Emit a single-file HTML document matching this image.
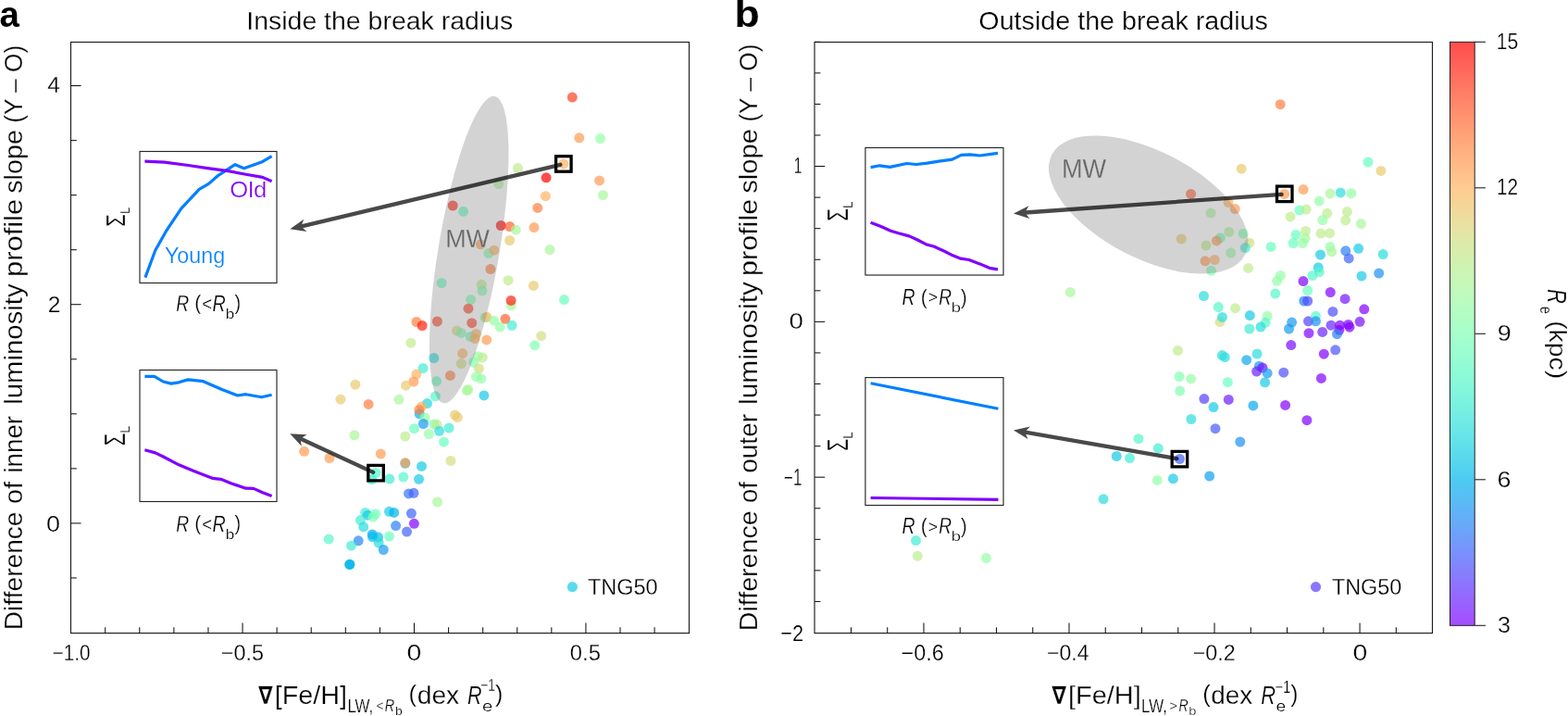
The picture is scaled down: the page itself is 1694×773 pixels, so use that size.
<!DOCTYPE html><html><head><meta charset="utf-8"><title>Figure</title><style>html,body{margin:0;padding:0;background:#fff;overflow:hidden;width:1694px;height:773px}svg{display:block}svg text{stroke:#fff;stroke-width:0.25px}</style></head><body>
<svg width="1694" height="773" viewBox="0 0 1694 773" font-family="'Liberation Sans', Arial, sans-serif">
<rect width="1694" height="773" fill="#fff"/>
<circle cx="618.3" cy="105.1" r="5.50" fill="#ff4221" fill-opacity="0.7"/>
<circle cx="625.8" cy="148.8" r="5.50" fill="#ff9b52" fill-opacity="0.7"/>
<circle cx="648.6" cy="149.6" r="5.50" fill="#95fda8" fill-opacity="0.7"/>
<circle cx="608.8" cy="176.9" r="5.50" fill="#ffb462" fill-opacity="0.7"/>
<circle cx="559.4" cy="181.4" r="5.50" fill="#bfec8e" fill-opacity="0.7"/>
<circle cx="590.1" cy="191.8" r="5.50" fill="#ff0000" fill-opacity="0.7"/>
<circle cx="647.6" cy="194.9" r="5.50" fill="#ff9b52" fill-opacity="0.7"/>
<circle cx="538.7" cy="198.5" r="5.50" fill="#aaf69b" fill-opacity="0.7"/>
<circle cx="651.5" cy="210.7" r="5.50" fill="#aaf69b" fill-opacity="0.7"/>
<circle cx="589.4" cy="211.7" r="5.50" fill="#ffb462" fill-opacity="0.7"/>
<circle cx="580.8" cy="224.4" r="5.50" fill="#ff7f42" fill-opacity="0.7"/>
<circle cx="489.2" cy="222.0" r="5.50" fill="#ff2111" fill-opacity="0.7"/>
<circle cx="500.6" cy="228.3" r="5.50" fill="#6afdc0" fill-opacity="0.7"/>
<circle cx="541.2" cy="243.5" r="5.50" fill="#ff0000" fill-opacity="0.7"/>
<circle cx="550.8" cy="244.6" r="5.50" fill="#ff6232" fill-opacity="0.7"/>
<circle cx="557.3" cy="248.2" r="5.50" fill="#aaf69b" fill-opacity="0.7"/>
<circle cx="577.0" cy="245.6" r="5.50" fill="#ff9b52" fill-opacity="0.7"/>
<circle cx="550.6" cy="259.5" r="5.50" fill="#eaca71" fill-opacity="0.7"/>
<circle cx="519.3" cy="263.8" r="5.50" fill="#ff9b52" fill-opacity="0.7"/>
<circle cx="527.8" cy="273.5" r="5.50" fill="#80ffb4" fill-opacity="0.7"/>
<circle cx="533.7" cy="270.2" r="5.50" fill="#ffb462" fill-opacity="0.7"/>
<circle cx="594.0" cy="269.5" r="5.50" fill="#aaf69b" fill-opacity="0.7"/>
<circle cx="529.9" cy="290.5" r="5.50" fill="#ff7f42" fill-opacity="0.7"/>
<circle cx="549.0" cy="302.7" r="5.50" fill="#bfec8e" fill-opacity="0.7"/>
<circle cx="576.4" cy="308.4" r="5.50" fill="#eaca71" fill-opacity="0.7"/>
<circle cx="477.1" cy="305.5" r="5.50" fill="#6afdc0" fill-opacity="0.7"/>
<circle cx="520.3" cy="307.3" r="5.50" fill="#bfec8e" fill-opacity="0.7"/>
<circle cx="521.0" cy="314.0" r="5.50" fill="#80ffb4" fill-opacity="0.7"/>
<circle cx="609.5" cy="323.6" r="5.50" fill="#6afdc0" fill-opacity="0.7"/>
<circle cx="508.6" cy="323.4" r="5.50" fill="#80ffb4" fill-opacity="0.7"/>
<circle cx="552.1" cy="329.9" r="5.50" fill="#aaf69b" fill-opacity="0.7"/>
<circle cx="552.1" cy="324.4" r="5.50" fill="#ff2111" fill-opacity="0.7"/>
<circle cx="506.0" cy="333.2" r="5.50" fill="#ff4221" fill-opacity="0.7"/>
<circle cx="472.4" cy="347.0" r="5.50" fill="#ff4221" fill-opacity="0.7"/>
<circle cx="509.7" cy="348.7" r="5.50" fill="#ff4221" fill-opacity="0.7"/>
<circle cx="524.0" cy="342.8" r="5.50" fill="#80ffb4" fill-opacity="0.7"/>
<circle cx="526.0" cy="342.3" r="5.50" fill="#ffb462" fill-opacity="0.7"/>
<circle cx="533.7" cy="346.2" r="5.50" fill="#95fda8" fill-opacity="0.7"/>
<circle cx="545.9" cy="344.3" r="5.50" fill="#ff6232" fill-opacity="0.7"/>
<circle cx="540.2" cy="353.1" r="5.50" fill="#95fda8" fill-opacity="0.7"/>
<circle cx="553.1" cy="351.3" r="5.50" fill="#40ecd4" fill-opacity="0.7"/>
<circle cx="493.6" cy="357.0" r="5.50" fill="#d4dd80" fill-opacity="0.7"/>
<circle cx="498.3" cy="359.4" r="5.50" fill="#80ffb4" fill-opacity="0.7"/>
<circle cx="508.4" cy="363.5" r="5.50" fill="#6afdc0" fill-opacity="0.7"/>
<circle cx="514.3" cy="360.4" r="5.50" fill="#ffb462" fill-opacity="0.7"/>
<circle cx="513.0" cy="365.6" r="5.50" fill="#ffb462" fill-opacity="0.7"/>
<circle cx="525.7" cy="366.9" r="5.50" fill="#ff9b52" fill-opacity="0.7"/>
<circle cx="584.7" cy="362.7" r="5.50" fill="#d4dd80" fill-opacity="0.7"/>
<circle cx="577.7" cy="372.8" r="5.50" fill="#80ffb4" fill-opacity="0.7"/>
<circle cx="468.8" cy="386.5" r="5.50" fill="#2adddd" fill-opacity="0.7"/>
<circle cx="499.6" cy="381.6" r="5.50" fill="#ffb462" fill-opacity="0.7"/>
<circle cx="498.3" cy="392.5" r="5.50" fill="#d4dd80" fill-opacity="0.7"/>
<circle cx="511.7" cy="391.2" r="5.50" fill="#80ffb4" fill-opacity="0.7"/>
<circle cx="516.4" cy="384.7" r="5.50" fill="#95fda8" fill-opacity="0.7"/>
<circle cx="521.3" cy="386.0" r="5.50" fill="#bfec8e" fill-opacity="0.7"/>
<circle cx="517.4" cy="397.9" r="5.50" fill="#d4dd80" fill-opacity="0.7"/>
<circle cx="514.3" cy="406.7" r="5.50" fill="#95fda8" fill-opacity="0.7"/>
<circle cx="519.8" cy="408.8" r="5.50" fill="#95fda8" fill-opacity="0.7"/>
<circle cx="486.4" cy="405.4" r="5.50" fill="#ff7f42" fill-opacity="0.7"/>
<circle cx="471.6" cy="411.6" r="5.50" fill="#6afdc0" fill-opacity="0.7"/>
<circle cx="504.4" cy="421.6" r="5.50" fill="#aaf69b" fill-opacity="0.7"/>
<circle cx="505.8" cy="420.6" r="5.50" fill="#aaf69b" fill-opacity="0.7"/>
<circle cx="522.9" cy="426.9" r="5.50" fill="#15cae5" fill-opacity="0.7"/>
<circle cx="470.4" cy="427.8" r="5.50" fill="#55f6ca" fill-opacity="0.7"/>
<circle cx="461.5" cy="435.6" r="5.50" fill="#22d6e0" fill-opacity="0.7"/>
<circle cx="491.5" cy="448.0" r="5.50" fill="#eaca71" fill-opacity="0.7"/>
<circle cx="494.4" cy="450.6" r="5.50" fill="#eaca71" fill-opacity="0.7"/>
<circle cx="449.9" cy="347.5" r="5.50" fill="#ff7f42" fill-opacity="0.7"/>
<circle cx="456.1" cy="351.5" r="5.50" fill="#ff2111" fill-opacity="0.7"/>
<circle cx="443.9" cy="370.2" r="5.50" fill="#bfec8e" fill-opacity="0.7"/>
<circle cx="457.0" cy="397.5" r="5.50" fill="#40ecd4" fill-opacity="0.7"/>
<circle cx="449.9" cy="404.1" r="5.50" fill="#ffb462" fill-opacity="0.7"/>
<circle cx="446.8" cy="412.1" r="5.50" fill="#ff9b52" fill-opacity="0.7"/>
<circle cx="438.5" cy="416.2" r="5.50" fill="#eaca71" fill-opacity="0.7"/>
<circle cx="383.9" cy="415.2" r="5.50" fill="#eaca71" fill-opacity="0.7"/>
<circle cx="367.9" cy="431.2" r="5.50" fill="#eaca71" fill-opacity="0.7"/>
<circle cx="398.1" cy="436.4" r="5.50" fill="#ff7f42" fill-opacity="0.7"/>
<circle cx="431.0" cy="431.3" r="5.50" fill="#aaf69b" fill-opacity="0.7"/>
<circle cx="455.5" cy="439.0" r="5.50" fill="#ffb462" fill-opacity="0.7"/>
<circle cx="453.2" cy="446.8" r="5.50" fill="#00b4ec" fill-opacity="0.7"/>
<circle cx="452.9" cy="442.4" r="5.50" fill="#ff7f42" fill-opacity="0.7"/>
<circle cx="459.1" cy="451.0" r="5.50" fill="#95fda8" fill-opacity="0.7"/>
<circle cx="457.4" cy="457.5" r="5.50" fill="#159bf1" fill-opacity="0.7"/>
<circle cx="447.5" cy="462.7" r="5.50" fill="#6afdc0" fill-opacity="0.7"/>
<circle cx="437.8" cy="471.1" r="5.50" fill="#bfec8e" fill-opacity="0.7"/>
<circle cx="468.8" cy="457.9" r="5.50" fill="#80ffb4" fill-opacity="0.7"/>
<circle cx="472.0" cy="458.2" r="5.50" fill="#bfec8e" fill-opacity="0.7"/>
<circle cx="474.6" cy="465.3" r="5.50" fill="#2adddd" fill-opacity="0.7"/>
<circle cx="485.0" cy="462.0" r="5.50" fill="#40ecd4" fill-opacity="0.7"/>
<circle cx="463.4" cy="468.5" r="5.50" fill="#95fda8" fill-opacity="0.7"/>
<circle cx="479.5" cy="477.2" r="5.50" fill="#6afdc0" fill-opacity="0.7"/>
<circle cx="486.9" cy="497.4" r="5.50" fill="#d4dd80" fill-opacity="0.7"/>
<circle cx="437.8" cy="500.3" r="5.50" fill="#15cae5" fill-opacity="0.7"/>
<circle cx="437.8" cy="499.6" r="5.50" fill="#ff9b52" fill-opacity="0.7"/>
<circle cx="455.5" cy="503.4" r="5.50" fill="#15cae5" fill-opacity="0.7"/>
<circle cx="435.8" cy="515.1" r="5.50" fill="#55f6ca" fill-opacity="0.7"/>
<circle cx="452.6" cy="517.3" r="5.50" fill="#15cae5" fill-opacity="0.7"/>
<circle cx="382.9" cy="469.8" r="5.50" fill="#aaf69b" fill-opacity="0.7"/>
<circle cx="328.6" cy="487.3" r="5.50" fill="#ff9b52" fill-opacity="0.7"/>
<circle cx="356.0" cy="494.5" r="5.50" fill="#ff9b52" fill-opacity="0.7"/>
<circle cx="411.3" cy="490.0" r="5.50" fill="#ff9b52" fill-opacity="0.7"/>
<circle cx="420.9" cy="517.1" r="5.50" fill="#40ecd4" fill-opacity="0.7"/>
<circle cx="406.0" cy="510.5" r="5.50" fill="#55f6ca" fill-opacity="0.7"/>
<circle cx="401.6" cy="517.5" r="5.50" fill="#40ecd4" fill-opacity="0.7"/>
<circle cx="441.5" cy="532.9" r="5.50" fill="#3374f8" fill-opacity="0.7"/>
<circle cx="447.0" cy="532.3" r="5.50" fill="#4062fa" fill-opacity="0.7"/>
<circle cx="472.5" cy="542.0" r="5.50" fill="#aaf69b" fill-opacity="0.7"/>
<circle cx="394.7" cy="553.4" r="5.50" fill="#40ecd4" fill-opacity="0.7"/>
<circle cx="397.2" cy="556.2" r="5.50" fill="#15cae5" fill-opacity="0.7"/>
<circle cx="405.6" cy="554.9" r="5.50" fill="#6afdc0" fill-opacity="0.7"/>
<circle cx="403.1" cy="558.1" r="5.50" fill="#80ffb4" fill-opacity="0.7"/>
<circle cx="420.5" cy="552.3" r="5.50" fill="#15cae5" fill-opacity="0.7"/>
<circle cx="425.7" cy="553.4" r="5.50" fill="#00b4ec" fill-opacity="0.7"/>
<circle cx="444.4" cy="554.3" r="5.50" fill="#4062fa" fill-opacity="0.7"/>
<circle cx="447.4" cy="565.3" r="5.50" fill="#8000ff" fill-opacity="0.7"/>
<circle cx="389.5" cy="561.6" r="5.50" fill="#40ecd4" fill-opacity="0.7"/>
<circle cx="392.7" cy="568.9" r="5.50" fill="#2adddd" fill-opacity="0.7"/>
<circle cx="427.6" cy="567.6" r="5.50" fill="#2b7ff6" fill-opacity="0.7"/>
<circle cx="439.5" cy="574.1" r="5.50" fill="#4062fa" fill-opacity="0.7"/>
<circle cx="402.2" cy="576.9" r="5.50" fill="#09abee" fill-opacity="0.7"/>
<circle cx="402.4" cy="579.5" r="5.50" fill="#08bee9" fill-opacity="0.7"/>
<circle cx="408.6" cy="580.1" r="5.50" fill="#08bee9" fill-opacity="0.7"/>
<circle cx="409.1" cy="586.0" r="5.50" fill="#2adddd" fill-opacity="0.7"/>
<circle cx="420.5" cy="579.1" r="5.50" fill="#6afdc0" fill-opacity="0.7"/>
<circle cx="355.2" cy="582.1" r="5.50" fill="#55f6ca" fill-opacity="0.7"/>
<circle cx="387.2" cy="583.8" r="5.50" fill="#2685f5" fill-opacity="0.7"/>
<circle cx="379.5" cy="589.2" r="5.50" fill="#40ecd4" fill-opacity="0.7"/>
<circle cx="414.3" cy="593.5" r="5.50" fill="#159bf1" fill-opacity="0.7"/>
<circle cx="377.8" cy="609.2" r="5.50" fill="#00b4ec" fill-opacity="0.7"/>
<circle cx="377.8" cy="609.6" r="5.50" fill="#00b4ec" fill-opacity="0.7"/>
<ellipse cx="506.7" cy="269.6" rx="33.0" ry="168" transform="rotate(9.5 506.7 269.6)" fill="#808080" fill-opacity="0.35"/>
<text transform="translate(483.40,266.80) scale(0.9443,1)" x="-2.337" y="0" font-family="'Liberation Sans', sans-serif" font-size="28.489" fill="#666" style="stroke:#d2d2d2">MW</text>
<g opacity="0.71"><line x1="605.4" y1="177.8" x2="325.8" y2="244.3" stroke="#000" stroke-width="4.3" stroke-linecap="round"/><path d="M313.3 247.3L328.2 236.7L325.3 244.5L331.4 250.1Z" fill="#000"/></g>
<g opacity="0.71"><line x1="403.2" y1="509.9" x2="324.9" y2="473.7" stroke="#000" stroke-width="4.3" stroke-linecap="round"/><path d="M313.3 468.3L331.6 469.2L324.5 473.5L325.8 481.7Z" fill="#000"/></g>
<rect x="600.6" y="168.7" width="16.5" height="16.5" fill="none" stroke="#000" stroke-width="3.3"/>
<rect x="397.8" y="502.4" width="16.5" height="16.5" fill="none" stroke="#000" stroke-width="3.3"/>
<circle cx="1383.2" cy="112.7" r="5.50" fill="#ff7f42" fill-opacity="0.7"/>
<circle cx="1478.1" cy="175.0" r="5.50" fill="#6afdc0" fill-opacity="0.7"/>
<circle cx="1491.9" cy="184.4" r="5.50" fill="#eaca71" fill-opacity="0.7"/>
<circle cx="1341.2" cy="182.2" r="5.50" fill="#eaca71" fill-opacity="0.7"/>
<circle cx="1387.6" cy="209.4" r="5.50" fill="#ff9b52" fill-opacity="0.7"/>
<circle cx="1408.1" cy="204.6" r="5.50" fill="#ff9b52" fill-opacity="0.7"/>
<circle cx="1286.6" cy="209.4" r="5.50" fill="#ff6232" fill-opacity="0.7"/>
<circle cx="1437.1" cy="209.1" r="5.50" fill="#aaf69b" fill-opacity="0.7"/>
<circle cx="1448.3" cy="207.9" r="5.50" fill="#2adddd" fill-opacity="0.7"/>
<circle cx="1459.8" cy="208.7" r="5.50" fill="#95fda8" fill-opacity="0.7"/>
<circle cx="1425.2" cy="217.1" r="5.50" fill="#95fda8" fill-opacity="0.7"/>
<circle cx="1327.1" cy="218.6" r="5.50" fill="#ffb462" fill-opacity="0.7"/>
<circle cx="1334.3" cy="225.6" r="5.50" fill="#ff9b52" fill-opacity="0.7"/>
<circle cx="1308.1" cy="230.1" r="5.50" fill="#aaf69b" fill-opacity="0.7"/>
<circle cx="1403.9" cy="226.9" r="5.50" fill="#6afdc0" fill-opacity="0.7"/>
<circle cx="1411.2" cy="226.1" r="5.50" fill="#bfec8e" fill-opacity="0.7"/>
<circle cx="1394.1" cy="234.1" r="5.50" fill="#bfec8e" fill-opacity="0.7"/>
<circle cx="1433.8" cy="230.3" r="5.50" fill="#bfec8e" fill-opacity="0.7"/>
<circle cx="1429.0" cy="237.5" r="5.50" fill="#95fda8" fill-opacity="0.7"/>
<circle cx="1455.5" cy="228.6" r="5.50" fill="#bfec8e" fill-opacity="0.7"/>
<circle cx="1453.7" cy="237.8" r="5.50" fill="#bfec8e" fill-opacity="0.7"/>
<circle cx="1470.4" cy="241.6" r="5.50" fill="#aaf69b" fill-opacity="0.7"/>
<circle cx="1276.3" cy="258.0" r="5.50" fill="#eaca71" fill-opacity="0.7"/>
<circle cx="1303.0" cy="265.0" r="5.50" fill="#bfec8e" fill-opacity="0.7"/>
<circle cx="1318.3" cy="256.9" r="5.50" fill="#6afdc0" fill-opacity="0.7"/>
<circle cx="1314.4" cy="259.9" r="5.50" fill="#ff9b52" fill-opacity="0.7"/>
<circle cx="1327.8" cy="250.4" r="5.50" fill="#aaf69b" fill-opacity="0.7"/>
<circle cx="1343.2" cy="252.2" r="5.50" fill="#80ffb4" fill-opacity="0.7"/>
<circle cx="1349.9" cy="262.2" r="5.50" fill="#d4dd80" fill-opacity="0.7"/>
<circle cx="1345.4" cy="267.5" r="5.50" fill="#40ecd4" fill-opacity="0.7"/>
<circle cx="1329.7" cy="273.0" r="5.50" fill="#95fda8" fill-opacity="0.7"/>
<circle cx="1302.0" cy="281.8" r="5.50" fill="#ff9b52" fill-opacity="0.7"/>
<circle cx="1312.2" cy="280.5" r="5.50" fill="#ffb462" fill-opacity="0.7"/>
<circle cx="1308.6" cy="292.2" r="5.50" fill="#80ffb4" fill-opacity="0.7"/>
<circle cx="1348.6" cy="289.4" r="5.50" fill="#bfec8e" fill-opacity="0.7"/>
<circle cx="1373.1" cy="266.4" r="5.50" fill="#6afdc0" fill-opacity="0.7"/>
<circle cx="1400.0" cy="253.4" r="5.50" fill="#6afdc0" fill-opacity="0.7"/>
<circle cx="1410.5" cy="249.4" r="5.50" fill="#bfec8e" fill-opacity="0.7"/>
<circle cx="1410.2" cy="257.2" r="5.50" fill="#aaf69b" fill-opacity="0.7"/>
<circle cx="1397.2" cy="262.5" r="5.50" fill="#6afdc0" fill-opacity="0.7"/>
<circle cx="1407.4" cy="262.5" r="5.50" fill="#95fda8" fill-opacity="0.7"/>
<circle cx="1427.0" cy="252.1" r="5.50" fill="#bfec8e" fill-opacity="0.7"/>
<circle cx="1436.6" cy="251.7" r="5.50" fill="#bfec8e" fill-opacity="0.7"/>
<circle cx="1437.0" cy="266.5" r="5.50" fill="#95fda8" fill-opacity="0.7"/>
<circle cx="1438.7" cy="271.8" r="5.50" fill="#aaf69b" fill-opacity="0.7"/>
<circle cx="1426.5" cy="275.0" r="5.50" fill="#15cae5" fill-opacity="0.7"/>
<circle cx="1453.8" cy="270.8" r="5.50" fill="#2b7ff6" fill-opacity="0.7"/>
<circle cx="1457.2" cy="278.9" r="5.50" fill="#4062fa" fill-opacity="0.7"/>
<circle cx="1467.6" cy="268.3" r="5.50" fill="#15cae5" fill-opacity="0.7"/>
<circle cx="1494.2" cy="274.6" r="5.50" fill="#2adddd" fill-opacity="0.7"/>
<circle cx="1424.2" cy="288.8" r="5.50" fill="#15cae5" fill-opacity="0.7"/>
<circle cx="1425.3" cy="293.7" r="5.50" fill="#55f6ca" fill-opacity="0.7"/>
<circle cx="1417.9" cy="297.5" r="5.50" fill="#55f6ca" fill-opacity="0.7"/>
<circle cx="1408.0" cy="303.6" r="5.50" fill="#8000ff" fill-opacity="0.7"/>
<circle cx="1383.4" cy="297.4" r="5.50" fill="#95fda8" fill-opacity="0.7"/>
<circle cx="1471.0" cy="298.1" r="5.50" fill="#15cae5" fill-opacity="0.7"/>
<circle cx="1489.7" cy="295.0" r="5.50" fill="#1e90f4" fill-opacity="0.7"/>
<circle cx="1379.6" cy="303.3" r="5.50" fill="#95fda8" fill-opacity="0.7"/>
<circle cx="1377.8" cy="317.0" r="5.50" fill="#55f6ca" fill-opacity="0.7"/>
<circle cx="1412.7" cy="313.6" r="5.50" fill="#6afdc0" fill-opacity="0.7"/>
<circle cx="1408.8" cy="325.0" r="5.50" fill="#2b7ff6" fill-opacity="0.7"/>
<circle cx="1412.7" cy="325.0" r="5.50" fill="#4c4ffc" fill-opacity="0.7"/>
<circle cx="1437.3" cy="315.5" r="5.50" fill="#8000ff" fill-opacity="0.7"/>
<circle cx="1453.1" cy="322.7" r="5.50" fill="#7314ff" fill-opacity="0.7"/>
<circle cx="1439.9" cy="336.4" r="5.50" fill="#4c4ffc" fill-opacity="0.7"/>
<circle cx="1473.8" cy="333.8" r="5.50" fill="#8000ff" fill-opacity="0.7"/>
<circle cx="1300.5" cy="319.5" r="5.50" fill="#2adddd" fill-opacity="0.7"/>
<circle cx="1316.3" cy="331.6" r="5.50" fill="#55f6ca" fill-opacity="0.7"/>
<circle cx="1334.5" cy="332.7" r="5.50" fill="#bfec8e" fill-opacity="0.7"/>
<circle cx="1318.0" cy="347.6" r="5.50" fill="#d4dd80" fill-opacity="0.7"/>
<circle cx="1320.5" cy="342.4" r="5.50" fill="#2adddd" fill-opacity="0.7"/>
<circle cx="1350.3" cy="340.6" r="5.50" fill="#15cae5" fill-opacity="0.7"/>
<circle cx="1369.2" cy="341.3" r="5.50" fill="#95fda8" fill-opacity="0.7"/>
<circle cx="1367.1" cy="348.3" r="5.50" fill="#55f6ca" fill-opacity="0.7"/>
<circle cx="1362.0" cy="353.0" r="5.50" fill="#2adddd" fill-opacity="0.7"/>
<circle cx="1349.8" cy="355.0" r="5.50" fill="#40ecd4" fill-opacity="0.7"/>
<circle cx="1395.6" cy="348.1" r="5.50" fill="#159bf1" fill-opacity="0.7"/>
<circle cx="1392.5" cy="355.0" r="5.50" fill="#159bf1" fill-opacity="0.7"/>
<circle cx="1413.5" cy="346.8" r="5.50" fill="#5542fd" fill-opacity="0.7"/>
<circle cx="1421.5" cy="341.3" r="5.50" fill="#55f6ca" fill-opacity="0.7"/>
<circle cx="1421.5" cy="346.8" r="5.50" fill="#1e90f4" fill-opacity="0.7"/>
<circle cx="1414.0" cy="359.7" r="5.50" fill="#8000ff" fill-opacity="0.7"/>
<circle cx="1428.7" cy="358.4" r="5.50" fill="#6a21fe" fill-opacity="0.7"/>
<circle cx="1438.0" cy="351.2" r="5.50" fill="#6628fe" fill-opacity="0.7"/>
<circle cx="1447.6" cy="351.2" r="5.50" fill="#8000ff" fill-opacity="0.7"/>
<circle cx="1446.9" cy="356.3" r="5.50" fill="#8000ff" fill-opacity="0.7"/>
<circle cx="1444.5" cy="360.7" r="5.50" fill="#2b7ff6" fill-opacity="0.7"/>
<circle cx="1456.7" cy="350.4" r="5.50" fill="#8000ff" fill-opacity="0.7"/>
<circle cx="1458.0" cy="353.2" r="5.50" fill="#8000ff" fill-opacity="0.7"/>
<circle cx="1469.1" cy="347.3" r="5.50" fill="#770dff" fill-opacity="0.7"/>
<circle cx="1394.8" cy="372.6" r="5.50" fill="#770dff" fill-opacity="0.7"/>
<circle cx="1430.3" cy="382.2" r="5.50" fill="#8000ff" fill-opacity="0.7"/>
<circle cx="1442.7" cy="377.8" r="5.50" fill="#4855fb" fill-opacity="0.7"/>
<circle cx="1272.4" cy="378.4" r="5.50" fill="#bfec8e" fill-opacity="0.7"/>
<circle cx="1320.3" cy="383.6" r="5.50" fill="#2adddd" fill-opacity="0.7"/>
<circle cx="1323.3" cy="385.7" r="5.50" fill="#2adddd" fill-opacity="0.7"/>
<circle cx="1358.1" cy="382.0" r="5.50" fill="#2adddd" fill-opacity="0.7"/>
<circle cx="1346.7" cy="388.7" r="5.50" fill="#09abee" fill-opacity="0.7"/>
<circle cx="1360.4" cy="395.2" r="5.50" fill="#159bf1" fill-opacity="0.7"/>
<circle cx="1364.0" cy="397.0" r="5.50" fill="#770dff" fill-opacity="0.7"/>
<circle cx="1357.6" cy="401.1" r="5.50" fill="#6a21fe" fill-opacity="0.7"/>
<circle cx="1369.2" cy="402.9" r="5.50" fill="#159bf1" fill-opacity="0.7"/>
<circle cx="1366.6" cy="412.8" r="5.50" fill="#15cae5" fill-opacity="0.7"/>
<circle cx="1386.8" cy="402.2" r="5.50" fill="#4c4ffc" fill-opacity="0.7"/>
<circle cx="1427.4" cy="408.4" r="5.50" fill="#8000ff" fill-opacity="0.7"/>
<circle cx="1274.1" cy="406.5" r="5.50" fill="#80ffb4" fill-opacity="0.7"/>
<circle cx="1286.7" cy="408.9" r="5.50" fill="#95fda8" fill-opacity="0.7"/>
<circle cx="1326.4" cy="412.7" r="5.50" fill="#6afdc0" fill-opacity="0.7"/>
<circle cx="1274.7" cy="422.1" r="5.50" fill="#80ffb4" fill-opacity="0.7"/>
<circle cx="1300.9" cy="430.6" r="5.50" fill="#5542fd" fill-opacity="0.7"/>
<circle cx="1311.0" cy="439.6" r="5.50" fill="#15cae5" fill-opacity="0.7"/>
<circle cx="1327.3" cy="431.4" r="5.50" fill="#6e1bff" fill-opacity="0.7"/>
<circle cx="1353.9" cy="437.9" r="5.50" fill="#09abee" fill-opacity="0.7"/>
<circle cx="1388.6" cy="437.4" r="5.50" fill="#8000ff" fill-opacity="0.7"/>
<circle cx="1411.9" cy="453.7" r="5.50" fill="#8000ff" fill-opacity="0.7"/>
<circle cx="1286.9" cy="452.5" r="5.50" fill="#2adddd" fill-opacity="0.7"/>
<circle cx="1313.0" cy="462.7" r="5.50" fill="#445bfb" fill-opacity="0.7"/>
<circle cx="1339.8" cy="477.0" r="5.50" fill="#1e90f4" fill-opacity="0.7"/>
<circle cx="1156.3" cy="315.4" r="5.50" fill="#aaf69b" fill-opacity="0.7"/>
<circle cx="1230.0" cy="473.7" r="5.50" fill="#55f6ca" fill-opacity="0.7"/>
<circle cx="1251.3" cy="484.1" r="5.50" fill="#40ecd4" fill-opacity="0.7"/>
<circle cx="1206.3" cy="492.5" r="5.50" fill="#15cae5" fill-opacity="0.7"/>
<circle cx="1220.5" cy="494.6" r="5.50" fill="#40ecd4" fill-opacity="0.7"/>
<circle cx="1274.5" cy="495.5" r="5.50" fill="#4062fa" fill-opacity="0.7"/>
<circle cx="1250.3" cy="518.4" r="5.50" fill="#95fda8" fill-opacity="0.7"/>
<circle cx="1267.4" cy="516.8" r="5.50" fill="#15cae5" fill-opacity="0.7"/>
<circle cx="1306.7" cy="514.0" r="5.50" fill="#11a0f0" fill-opacity="0.7"/>
<circle cx="1192.1" cy="538.8" r="5.50" fill="#2adddd" fill-opacity="0.7"/>
<circle cx="989.5" cy="583.6" r="5.50" fill="#40ecd4" fill-opacity="0.7"/>
<circle cx="991.3" cy="600.3" r="5.50" fill="#bfec8e" fill-opacity="0.7"/>
<circle cx="1065.5" cy="602.4" r="5.50" fill="#95fda8" fill-opacity="0.7"/>
<ellipse cx="1240.7" cy="221" rx="117.6" ry="57.7" transform="rotate(27.4 1240.7 221)" fill="#808080" fill-opacity="0.35"/>
<text transform="translate(1149.10,191.70) scale(0.9429,1)" x="-2.361" y="0" font-family="'Liberation Sans', sans-serif" font-size="28.780" fill="#666" style="stroke:#d2d2d2">MW</text>
<g opacity="0.71"><line x1="1384.6" y1="209.8" x2="1107.8" y2="229.5" stroke="#000" stroke-width="4.3" stroke-linecap="round"/><path d="M1095.0 230.4L1111.5 222.3L1107.3 229.5L1112.4 236.1Z" fill="#000"/></g>
<g opacity="0.71"><line x1="1271.4" y1="495.2" x2="1107.6" y2="466.6" stroke="#000" stroke-width="4.3" stroke-linecap="round"/><path d="M1095.0 464.4L1112.9 460.5L1107.1 466.5L1110.6 474.1Z" fill="#000"/></g>
<rect x="1379.5" y="201.1" width="16.5" height="16.5" fill="none" stroke="#000" stroke-width="3.3"/>
<rect x="1266.2" y="487.4" width="16.5" height="16.5" fill="none" stroke="#000" stroke-width="3.3"/>
<rect x="151.0" y="163.5" width="148.0" height="142.0" fill="#fff" stroke="#262626" stroke-width="1.15"/>
<polyline points="156.9,299.6 167.8,270.3 180.2,248.3 195.8,225.1 215.2,204.3 225.5,198.4 235.9,189.3 254.0,177.7 263.6,181.8 282.5,175.1 293.6,168.6" fill="none" stroke="#007fff" stroke-width="3.2" stroke-linejoin="round" stroke-linecap="butt"/>
<polyline points="156.4,174.1 177.6,175.1 203.5,178.5 224.2,181.6 244.9,184.4 265.6,188.3 283.7,191.4 293.6,195.8" fill="none" stroke="#7f00ff" stroke-width="3.2" stroke-linejoin="round" stroke-linecap="butt"/>
<rect x="151.0" y="399.5" width="148.0" height="142.0" fill="#fff" stroke="#262626" stroke-width="1.15"/>
<polyline points="156.4,406.3 166.8,406.3 176.3,412.0 184.9,414.1 193.2,412.8 203.0,409.9 219.6,411.7 239.8,420.5 256.6,427.0 265.6,425.7 282.5,428.8 293.6,426.2" fill="none" stroke="#007fff" stroke-width="3.2" stroke-linejoin="round" stroke-linecap="butt"/>
<polyline points="156.4,485.8 167.8,488.9 176.3,493.0 193.2,501.8 208.7,508.3 229.4,516.3 238.5,517.3 250.1,522.0 265.6,527.2 273.9,527.4 283.7,531.8 293.6,535.4" fill="none" stroke="#7f00ff" stroke-width="3.2" stroke-linejoin="round" stroke-linecap="butt"/>
<rect x="934.9" y="159.5" width="149.1" height="137.5" fill="#fff" stroke="#262626" stroke-width="1.15"/>
<polyline points="940.6,180.6 950.4,178.8 961.5,180.4 979.6,176.5 990.0,177.5 1001.6,176.2 1015.9,173.9 1028.8,172.1 1038.4,167.4 1048.2,166.9 1058.6,168.0 1078.0,165.4" fill="none" stroke="#007fff" stroke-width="3.2" stroke-linejoin="round" stroke-linecap="butt"/>
<polyline points="940.6,240.2 951.2,244.3 962.3,249.2 970.6,251.8 982.2,254.9 991.3,259.0 1000.3,263.7 1009.4,266.3 1019.8,271.0 1028.8,275.6 1037.9,279.2 1046.9,280.5 1058.6,284.9 1068.9,289.3 1078.0,290.9" fill="none" stroke="#7f00ff" stroke-width="3.2" stroke-linejoin="round" stroke-linecap="butt"/>
<rect x="934.9" y="407.6" width="149.1" height="137.9" fill="#fff" stroke="#262626" stroke-width="1.15"/>
<polyline points="940.6,413.8 1078.5,441.2" fill="none" stroke="#007fff" stroke-width="3.2" stroke-linejoin="round" stroke-linecap="butt"/>
<polyline points="940.6,537.5 1078.5,539.3" fill="none" stroke="#7f00ff" stroke-width="3.2" stroke-linejoin="round" stroke-linecap="butt"/>
<rect x="76.5" y="45.5" width="668.0" height="638.0" fill="none" stroke="#1c1c1c" stroke-width="1.15"/>
<rect x="880.0" y="45.5" width="667.5" height="638.0" fill="none" stroke="#1c1c1c" stroke-width="1.15"/>
<line x1="113.69" y1="683.5" x2="113.69" y2="677.3" stroke="#111" stroke-width="1.05"/>
<line x1="150.78" y1="683.5" x2="150.78" y2="677.3" stroke="#111" stroke-width="1.05"/>
<line x1="187.87" y1="683.5" x2="187.87" y2="677.3" stroke="#111" stroke-width="1.05"/>
<line x1="224.96" y1="683.5" x2="224.96" y2="677.3" stroke="#111" stroke-width="1.05"/>
<line x1="262.04" y1="683.5" x2="262.04" y2="672.5" stroke="#111" stroke-width="1.05"/>
<line x1="299.13" y1="683.5" x2="299.13" y2="677.3" stroke="#111" stroke-width="1.05"/>
<line x1="336.22" y1="683.5" x2="336.22" y2="677.3" stroke="#111" stroke-width="1.05"/>
<line x1="373.31" y1="683.5" x2="373.31" y2="677.3" stroke="#111" stroke-width="1.05"/>
<line x1="410.40" y1="683.5" x2="410.40" y2="677.3" stroke="#111" stroke-width="1.05"/>
<line x1="447.49" y1="683.5" x2="447.49" y2="672.5" stroke="#111" stroke-width="1.05"/>
<line x1="484.58" y1="683.5" x2="484.58" y2="677.3" stroke="#111" stroke-width="1.05"/>
<line x1="521.67" y1="683.5" x2="521.67" y2="677.3" stroke="#111" stroke-width="1.05"/>
<line x1="558.76" y1="683.5" x2="558.76" y2="677.3" stroke="#111" stroke-width="1.05"/>
<line x1="595.84" y1="683.5" x2="595.84" y2="677.3" stroke="#111" stroke-width="1.05"/>
<line x1="632.93" y1="683.5" x2="632.93" y2="672.5" stroke="#111" stroke-width="1.05"/>
<line x1="670.02" y1="683.5" x2="670.02" y2="677.3" stroke="#111" stroke-width="1.05"/>
<line x1="707.11" y1="683.5" x2="707.11" y2="677.3" stroke="#111" stroke-width="1.05"/>
<line x1="76.6" y1="623.95" x2="82.8" y2="623.95" stroke="#111" stroke-width="1.05"/>
<line x1="76.6" y1="564.91" x2="87.6" y2="564.91" stroke="#111" stroke-width="1.05"/>
<line x1="76.6" y1="505.86" x2="82.8" y2="505.86" stroke="#111" stroke-width="1.05"/>
<line x1="76.6" y1="446.81" x2="82.8" y2="446.81" stroke="#111" stroke-width="1.05"/>
<line x1="76.6" y1="387.77" x2="82.8" y2="387.77" stroke="#111" stroke-width="1.05"/>
<line x1="76.6" y1="328.72" x2="87.6" y2="328.72" stroke="#111" stroke-width="1.05"/>
<line x1="76.6" y1="269.68" x2="82.8" y2="269.68" stroke="#111" stroke-width="1.05"/>
<line x1="76.6" y1="210.63" x2="82.8" y2="210.63" stroke="#111" stroke-width="1.05"/>
<line x1="76.6" y1="151.58" x2="82.8" y2="151.58" stroke="#111" stroke-width="1.05"/>
<line x1="76.6" y1="92.54" x2="87.6" y2="92.54" stroke="#111" stroke-width="1.05"/>
<line x1="919.46" y1="683.5" x2="919.46" y2="677.3" stroke="#111" stroke-width="1.05"/>
<line x1="958.72" y1="683.5" x2="958.72" y2="677.3" stroke="#111" stroke-width="1.05"/>
<line x1="997.98" y1="683.5" x2="997.98" y2="672.5" stroke="#111" stroke-width="1.05"/>
<line x1="1037.24" y1="683.5" x2="1037.24" y2="677.3" stroke="#111" stroke-width="1.05"/>
<line x1="1076.49" y1="683.5" x2="1076.49" y2="677.3" stroke="#111" stroke-width="1.05"/>
<line x1="1115.75" y1="683.5" x2="1115.75" y2="677.3" stroke="#111" stroke-width="1.05"/>
<line x1="1155.01" y1="683.5" x2="1155.01" y2="672.5" stroke="#111" stroke-width="1.05"/>
<line x1="1194.27" y1="683.5" x2="1194.27" y2="677.3" stroke="#111" stroke-width="1.05"/>
<line x1="1233.53" y1="683.5" x2="1233.53" y2="677.3" stroke="#111" stroke-width="1.05"/>
<line x1="1272.79" y1="683.5" x2="1272.79" y2="677.3" stroke="#111" stroke-width="1.05"/>
<line x1="1312.05" y1="683.5" x2="1312.05" y2="672.5" stroke="#111" stroke-width="1.05"/>
<line x1="1351.31" y1="683.5" x2="1351.31" y2="677.3" stroke="#111" stroke-width="1.05"/>
<line x1="1390.56" y1="683.5" x2="1390.56" y2="677.3" stroke="#111" stroke-width="1.05"/>
<line x1="1429.82" y1="683.5" x2="1429.82" y2="677.3" stroke="#111" stroke-width="1.05"/>
<line x1="1469.08" y1="683.5" x2="1469.08" y2="672.5" stroke="#111" stroke-width="1.05"/>
<line x1="1508.34" y1="683.5" x2="1508.34" y2="677.3" stroke="#111" stroke-width="1.05"/>
<line x1="880.2" y1="649.44" x2="886.4" y2="649.44" stroke="#111" stroke-width="1.05"/>
<line x1="880.2" y1="615.87" x2="886.4" y2="615.87" stroke="#111" stroke-width="1.05"/>
<line x1="880.2" y1="582.31" x2="886.4" y2="582.31" stroke="#111" stroke-width="1.05"/>
<line x1="880.2" y1="548.75" x2="886.4" y2="548.75" stroke="#111" stroke-width="1.05"/>
<line x1="880.2" y1="515.18" x2="891.2" y2="515.18" stroke="#111" stroke-width="1.05"/>
<line x1="880.2" y1="481.62" x2="886.4" y2="481.62" stroke="#111" stroke-width="1.05"/>
<line x1="880.2" y1="448.06" x2="886.4" y2="448.06" stroke="#111" stroke-width="1.05"/>
<line x1="880.2" y1="414.49" x2="886.4" y2="414.49" stroke="#111" stroke-width="1.05"/>
<line x1="880.2" y1="380.93" x2="886.4" y2="380.93" stroke="#111" stroke-width="1.05"/>
<line x1="880.2" y1="347.37" x2="891.2" y2="347.37" stroke="#111" stroke-width="1.05"/>
<line x1="880.2" y1="313.81" x2="886.4" y2="313.81" stroke="#111" stroke-width="1.05"/>
<line x1="880.2" y1="280.24" x2="886.4" y2="280.24" stroke="#111" stroke-width="1.05"/>
<line x1="880.2" y1="246.68" x2="886.4" y2="246.68" stroke="#111" stroke-width="1.05"/>
<line x1="880.2" y1="213.12" x2="886.4" y2="213.12" stroke="#111" stroke-width="1.05"/>
<line x1="880.2" y1="179.55" x2="891.2" y2="179.55" stroke="#111" stroke-width="1.05"/>
<line x1="880.2" y1="145.99" x2="886.4" y2="145.99" stroke="#111" stroke-width="1.05"/>
<line x1="880.2" y1="112.43" x2="886.4" y2="112.43" stroke="#111" stroke-width="1.05"/>
<line x1="880.2" y1="78.86" x2="886.4" y2="78.86" stroke="#111" stroke-width="1.05"/>
<line x1="880.2" y1="45.30" x2="886.4" y2="45.30" stroke="#111" stroke-width="1.05"/>
<text transform="translate(57.70,0.00) scale(0.8791,1)" x="-1.163" y="713.070" font-family="'Liberation Sans', sans-serif" font-size="23.587" fill="#000">−1.0</text>
<text transform="translate(240.00,0.00) scale(0.9908,1)" x="-1.163" y="713.070" font-family="'Liberation Sans', sans-serif" font-size="23.587" fill="#000">−0.5</text>
<text transform="translate(440.60,0.00) scale(1.2062,1)" x="-0.921" y="713.070" font-family="'Liberation Sans', sans-serif" font-size="23.587" fill="#000">0</text>
<text transform="translate(616.70,0.00) scale(1.0104,1)" x="-0.921" y="713.070" font-family="'Liberation Sans', sans-serif" font-size="23.587" fill="#000">0.5</text>
<text transform="translate(974.70,0.00) scale(0.9918,1)" x="-1.163" y="713.070" font-family="'Liberation Sans', sans-serif" font-size="23.587" fill="#000">−0.6</text>
<text transform="translate(1132.20,0.00) scale(0.9774,1)" x="-1.163" y="713.070" font-family="'Liberation Sans', sans-serif" font-size="23.587" fill="#000">−0.4</text>
<text transform="translate(1289.80,0.00) scale(0.9906,1)" x="-1.163" y="713.070" font-family="'Liberation Sans', sans-serif" font-size="23.587" fill="#000">−0.2</text>
<text transform="translate(1462.60,0.00) scale(1.2062,1)" x="-0.921" y="713.070" font-family="'Liberation Sans', sans-serif" font-size="23.587" fill="#000">0</text>
<text transform="translate(51.70,0.00) scale(1.0199,1)" x="-0.554" y="100.500" font-family="'Liberation Sans', sans-serif" font-size="24.128" fill="#000">4</text>
<text transform="translate(52.90,0.00) scale(1.0039,1)" x="-1.232" y="337.200" font-family="'Liberation Sans', sans-serif" font-size="24.490" fill="#000">2</text>
<text transform="translate(51.00,0.00) scale(1.1373,1)" x="-0.927" y="573.768" font-family="'Liberation Sans', sans-serif" font-size="23.729" fill="#000">0</text>
<text transform="translate(859.00,0.00) scale(0.6326,1)" x="-1.871" y="187.200" font-family="'Liberation Sans', sans-serif" font-size="24.564" fill="#000">1</text>
<text transform="translate(853.50,0.00) scale(1.1637,1)" x="-0.927" y="355.368" font-family="'Liberation Sans', sans-serif" font-size="23.729" fill="#000">0</text>
<text transform="translate(847.90,0.00) scale(0.6796,1)" x="-1.226" y="524.000" font-family="'Liberation Sans', sans-serif" font-size="24.855" fill="#000">−1</text>
<text transform="translate(844.30,0.00) scale(0.8908,1)" x="-1.208" y="692.100" font-family="'Liberation Sans', sans-serif" font-size="24.490" fill="#000">−2</text>
<text transform="translate(1618.30,0.00) scale(0.8837,1)" x="-1.812" y="53.368" font-family="'Liberation Sans', sans-serif" font-size="23.791" fill="#000">15</text>
<text transform="translate(1618.50,0.00) scale(0.8704,1)" x="-1.811" y="210.500" font-family="'Liberation Sans', sans-serif" font-size="23.774" fill="#000">12</text>
<text transform="translate(1618.90,0.00) scale(1.1115,1)" x="-1.132" y="367.964" font-family="'Liberation Sans', sans-serif" font-size="24.152" fill="#000">9</text>
<text transform="translate(1618.90,0.00) scale(1.1127,1)" x="-1.226" y="526.064" font-family="'Liberation Sans', sans-serif" font-size="24.152" fill="#000">6</text>
<text transform="translate(1618.90,0.00) scale(1.0392,1)" x="-0.920" y="682.964" font-family="'Liberation Sans', sans-serif" font-size="24.152" fill="#000">3</text>
<circle cx="618.4" cy="633.6" r="5.6" fill="#15cae5" fill-opacity="0.7"/>
<text transform="translate(635.40,0.00) scale(1.0159,1)" x="-0.520" y="642.174" font-family="'Liberation Sans', sans-serif" font-size="23.164" fill="#000">TNG50</text>
<circle cx="1421.5" cy="633.6" r="5.6" fill="#593cfd" fill-opacity="0.7"/>
<text transform="translate(1439.40,0.00) scale(0.9983,1)" x="-0.527" y="642.271" font-family="'Liberation Sans', sans-serif" font-size="23.446" fill="#000">TNG50</text>
<text transform="translate(268.90,32.10) scale(1.0146,1)" x="-2.589" y="0" font-family="'Liberation Sans', sans-serif" font-size="28.053" fill="#000">Inside the break radius</text>
<text transform="translate(1058.70,0.00) scale(1.0434,1)" x="-1.303" y="32.231" font-family="'Liberation Sans', sans-serif" font-size="27.506" fill="#000">Outside the break radius</text>
<text transform="translate(0.60,0.00) scale(0.9707,1)" x="-1.160" y="29.313" font-family="'Liberation Sans', sans-serif" font-size="39.609" font-weight="bold" fill="#000" style="stroke:none">a</text>
<text transform="translate(796.50,0.00) scale(1.0703,1)" x="-2.738" y="29.294" font-family="'Liberation Sans', sans-serif" font-size="41.532" font-weight="bold" fill="#000" style="stroke:none">b</text>
<text transform="translate(23.50,677.90) rotate(-90) scale(0.9929,1)" x="-2.325" y="0" font-family="'Liberation Sans', sans-serif" font-size="28.343" fill="#000">Difference</text>
<text transform="translate(23.50,542.80) rotate(-90) scale(1.0138,1)" x="-1.190" y="0" font-family="'Liberation Sans', sans-serif" font-size="28.343" fill="#000">of</text>
<text transform="translate(23.50,508.70) rotate(-90) scale(0.9776,1)" x="-1.896" y="0" font-family="'Liberation Sans', sans-serif" font-size="28.343" fill="#000">inner</text>
<text transform="translate(23.50,434.90) rotate(-90) scale(1.0367,1)" x="-1.910" y="0" font-family="'Liberation Sans', sans-serif" font-size="28.343" fill="#000">luminosity</text>
<text transform="translate(23.50,297.00) rotate(-90) scale(1.0903,1)" x="-1.827" y="0" font-family="'Liberation Sans', sans-serif" font-size="28.343" fill="#000">profile</text>
<text transform="translate(23.50,208.00) rotate(-90) scale(1.0136,1)" x="-0.789" y="0" font-family="'Liberation Sans', sans-serif" font-size="28.343" fill="#000">slope</text>
<text transform="translate(23.50,131.10) rotate(-90) scale(0.9246,1)" x="-1.758" y="0" font-family="'Liberation Sans', sans-serif" font-size="28.343" fill="#000">(Y – O)</text>
<text transform="translate(817.80,678.90) rotate(-90) scale(1.0201,1)" x="-2.301" y="0" font-family="'Liberation Sans', sans-serif" font-size="28.052" fill="#000">Difference</text>
<text transform="translate(817.80,541.80) rotate(-90) scale(0.9794,1)" x="-1.178" y="0" font-family="'Liberation Sans', sans-serif" font-size="28.052" fill="#000">of</text>
<text transform="translate(817.80,509.70) rotate(-90) scale(1.0017,1)" x="-1.178" y="0" font-family="'Liberation Sans', sans-serif" font-size="28.052" fill="#000">outer</text>
<text transform="translate(817.80,434.90) rotate(-90) scale(1.0646,1)" x="-1.890" y="0" font-family="'Liberation Sans', sans-serif" font-size="28.052" fill="#000">luminosity</text>
<text transform="translate(817.80,296.00) rotate(-90) scale(1.0879,1)" x="-1.808" y="0" font-family="'Liberation Sans', sans-serif" font-size="28.052" fill="#000">profile</text>
<text transform="translate(817.80,208.00) rotate(-90) scale(1.0394,1)" x="-0.781" y="0" font-family="'Liberation Sans', sans-serif" font-size="28.052" fill="#000">slope</text>
<text transform="translate(817.80,130.00) rotate(-90) scale(0.9353,1)" x="-1.740" y="0" font-family="'Liberation Sans', sans-serif" font-size="28.052" fill="#000">(Y – O)</text>
<text transform="translate(279.00,0.00) scale(0.8494,1)" x="-0.000" y="759.800" font-family="'DejaVu Sans', sans-serif" font-size="26.695" font-weight="bold" fill="#000">∇</text>
<text transform="translate(298.70,759.60) scale(1.0414,1)" x="-1.969" y="0" font-family="'Liberation Sans', sans-serif" font-size="27.617" fill="#000">[Fe/H]</text>
<text transform="translate(376.80,768.50) scale(0.8536,1)" x="-1.622" y="0" font-family="'Liberation Sans', sans-serif" font-size="19.768" fill="#000">LW,</text>
<text transform="translate(407.10,0.00) scale(0.8844,1)" x="-0.757" y="767.455" font-family="'Liberation Sans', sans-serif" font-size="15.360" fill="#000">&lt;</text>
<text transform="translate(416.20,768.40) scale(0.7495,1)" x="-0.590" y="0" font-family="'Liberation Sans', sans-serif" font-size="19.186" font-style="italic" fill="#000">R</text>
<text transform="translate(428.00,0.00) scale(1.0829,1)" x="-0.834" y="772.374" font-family="'Liberation Sans', sans-serif" font-size="12.936" fill="#000">b</text>
<text transform="translate(443.20,0.00) scale(0.9713,1)" x="-1.637" y="758.333" font-family="'Liberation Sans', sans-serif" font-size="26.405" fill="#000">(</text>
<text transform="translate(451.90,760.10) scale(0.9924,1)" x="-1.194" y="0" font-family="'Liberation Sans', sans-serif" font-size="28.429" fill="#000">dex</text>
<text transform="translate(505.70,760.10) scale(0.7702,1)" x="-0.858" y="0" font-family="'Liberation Sans', sans-serif" font-size="27.907" font-style="italic" fill="#000">R</text>
<text transform="translate(519.90,745.70) scale(0.7428,1)" x="-0.918" y="0" font-family="'Liberation Sans', sans-serif" font-size="18.605" fill="#000">−1</text>
<text transform="translate(521.90,0.00) scale(1.1675,1)" x="-0.737" y="767.831" font-family="'Liberation Sans', sans-serif" font-size="17.340" fill="#000">e</text>
<text transform="translate(535.20,0.00) scale(0.9427,1)" x="-0.155" y="758.333" font-family="'Liberation Sans', sans-serif" font-size="26.405" fill="#000">)</text>
<text transform="translate(1136.20,0.00) scale(0.8548,1)" x="-0.000" y="759.800" font-family="'DejaVu Sans', sans-serif" font-size="26.695" font-weight="bold" fill="#000">∇</text>
<text transform="translate(1156.00,759.60) scale(1.0484,1)" x="-1.969" y="0" font-family="'Liberation Sans', sans-serif" font-size="27.617" fill="#000">[Fe/H]</text>
<text transform="translate(1234.50,768.50) scale(0.8536,1)" x="-1.622" y="0" font-family="'Liberation Sans', sans-serif" font-size="19.768" fill="#000">LW,</text>
<text transform="translate(1264.10,0.00) scale(0.9380,1)" x="-0.757" y="767.455" font-family="'Liberation Sans', sans-serif" font-size="15.360" fill="#000">&gt;</text>
<text transform="translate(1274.00,768.40) scale(0.7337,1)" x="-0.590" y="0" font-family="'Liberation Sans', sans-serif" font-size="19.186" font-style="italic" fill="#000">R</text>
<text transform="translate(1285.30,0.00) scale(1.1345,1)" x="-0.834" y="772.374" font-family="'Liberation Sans', sans-serif" font-size="12.936" fill="#000">b</text>
<text transform="translate(1300.80,0.00) scale(0.9570,1)" x="-1.637" y="758.333" font-family="'Liberation Sans', sans-serif" font-size="26.405" fill="#000">(</text>
<text transform="translate(1309.30,760.10) scale(0.9834,1)" x="-1.194" y="0" font-family="'Liberation Sans', sans-serif" font-size="28.429" fill="#000">dex</text>
<text transform="translate(1362.80,760.10) scale(0.7865,1)" x="-0.858" y="0" font-family="'Liberation Sans', sans-serif" font-size="27.907" font-style="italic" fill="#000">R</text>
<text transform="translate(1378.50,748.10) scale(0.7686,1)" x="-0.918" y="0" font-family="'Liberation Sans', sans-serif" font-size="18.605" fill="#000">−1</text>
<text transform="translate(1379.40,0.00) scale(1.1061,1)" x="-0.737" y="767.831" font-family="'Liberation Sans', sans-serif" font-size="17.340" fill="#000">e</text>
<text transform="translate(1394.60,0.00) scale(0.8856,1)" x="-0.155" y="758.333" font-family="'Liberation Sans', sans-serif" font-size="26.405" fill="#000">)</text>
<text transform="translate(190.90,335.90) scale(0.7967,1)" x="-0.742" y="0" font-family="'Liberation Sans', sans-serif" font-size="24.128" font-style="italic" fill="#000">R</text>
<text transform="translate(211.60,0.00) scale(0.9370,1)" x="-1.398" y="334.333" font-family="'Liberation Sans', sans-serif" font-size="22.541" fill="#000">(</text>
<text transform="translate(219.10,0.00) scale(0.9502,1)" x="-0.961" y="334.866" font-family="'Liberation Sans', sans-serif" font-size="19.495" fill="#000">&lt;</text>
<text transform="translate(230.20,335.90) scale(0.8155,1)" x="-0.742" y="0" font-family="'Liberation Sans', sans-serif" font-size="24.128" font-style="italic" fill="#000">R</text>
<text transform="translate(244.80,0.00) scale(1.1227,1)" x="-0.983" y="343.851" font-family="'Liberation Sans', sans-serif" font-size="15.251" fill="#000">b</text>
<text transform="translate(253.60,0.00) scale(0.8868,1)" x="-0.132" y="334.333" font-family="'Liberation Sans', sans-serif" font-size="22.541" fill="#000">)</text>
<text transform="translate(190.90,573.90) scale(0.7967,1)" x="-0.742" y="0" font-family="'Liberation Sans', sans-serif" font-size="24.128" font-style="italic" fill="#000">R</text>
<text transform="translate(211.60,0.00) scale(0.9370,1)" x="-1.398" y="572.333" font-family="'Liberation Sans', sans-serif" font-size="22.541" fill="#000">(</text>
<text transform="translate(219.10,0.00) scale(0.9502,1)" x="-0.961" y="572.866" font-family="'Liberation Sans', sans-serif" font-size="19.495" fill="#000">&lt;</text>
<text transform="translate(230.20,573.90) scale(0.8155,1)" x="-0.742" y="0" font-family="'Liberation Sans', sans-serif" font-size="24.128" font-style="italic" fill="#000">R</text>
<text transform="translate(244.80,0.00) scale(1.1227,1)" x="-0.983" y="581.851" font-family="'Liberation Sans', sans-serif" font-size="15.251" fill="#000">b</text>
<text transform="translate(253.60,0.00) scale(0.8868,1)" x="-0.132" y="572.333" font-family="'Liberation Sans', sans-serif" font-size="22.541" fill="#000">)</text>
<text transform="translate(975.10,328.90) scale(0.8044,1)" x="-0.747" y="0" font-family="'Liberation Sans', sans-serif" font-size="24.274" font-style="italic" fill="#000">R</text>
<text transform="translate(996.10,0.00) scale(0.9238,1)" x="-1.418" y="327.667" font-family="'Liberation Sans', sans-serif" font-size="22.863" fill="#000">(</text>
<text transform="translate(1003.70,0.00) scale(0.9255,1)" x="-0.932" y="327.422" font-family="'Liberation Sans', sans-serif" font-size="18.905" fill="#000">&gt;</text>
<text transform="translate(1014.80,328.90) scale(0.7857,1)" x="-0.747" y="0" font-family="'Liberation Sans', sans-serif" font-size="24.274" font-style="italic" fill="#000">R</text>
<text transform="translate(1029.00,0.00) scale(1.2211,1)" x="-0.974" y="336.952" font-family="'Liberation Sans', sans-serif" font-size="15.115" fill="#000">b</text>
<text transform="translate(1038.20,0.00) scale(0.8743,1)" x="-0.134" y="327.667" font-family="'Liberation Sans', sans-serif" font-size="22.863" fill="#000">)</text>
<text transform="translate(975.10,576.00) scale(0.8044,1)" x="-0.747" y="0" font-family="'Liberation Sans', sans-serif" font-size="24.274" font-style="italic" fill="#000">R</text>
<text transform="translate(996.10,0.00) scale(0.9238,1)" x="-1.418" y="574.767" font-family="'Liberation Sans', sans-serif" font-size="22.863" fill="#000">(</text>
<text transform="translate(1003.70,0.00) scale(0.9255,1)" x="-0.932" y="574.522" font-family="'Liberation Sans', sans-serif" font-size="18.905" fill="#000">&gt;</text>
<text transform="translate(1014.80,576.00) scale(0.7857,1)" x="-0.747" y="0" font-family="'Liberation Sans', sans-serif" font-size="24.274" font-style="italic" fill="#000">R</text>
<text transform="translate(1029.00,0.00) scale(1.2211,1)" x="-0.974" y="584.052" font-family="'Liberation Sans', sans-serif" font-size="15.115" fill="#000">b</text>
<text transform="translate(1038.20,0.00) scale(0.8743,1)" x="-0.134" y="574.767" font-family="'Liberation Sans', sans-serif" font-size="22.863" fill="#000">)</text>
<text transform="translate(135.00,243.50) rotate(-90) scale(0.7199,1)" x="-1.602" y="0" font-family="'Liberation Sans', sans-serif" font-size="30.378" fill="#000">Σ</text>
<text transform="translate(139.70,230.00) rotate(-90) scale(0.8984,1)" x="-1.180" y="0" font-family="'Liberation Sans', sans-serif" font-size="14.390" fill="#000">L</text>
<text transform="translate(135.00,480.00) rotate(-90) scale(0.7158,1)" x="-1.625" y="0" font-family="'Liberation Sans', sans-serif" font-size="30.814" fill="#000">Σ</text>
<text transform="translate(139.90,466.60) rotate(-90) scale(1.0042,1)" x="-1.204" y="0" font-family="'Liberation Sans', sans-serif" font-size="14.680" fill="#000">L</text>
<text transform="translate(916.20,237.70) rotate(-90) scale(0.7220,1)" x="-1.625" y="0" font-family="'Liberation Sans', sans-serif" font-size="30.814" fill="#000">Σ</text>
<text transform="translate(921.10,224.00) rotate(-90) scale(0.9089,1)" x="-1.228" y="0" font-family="'Liberation Sans', sans-serif" font-size="14.971" fill="#000">L</text>
<text transform="translate(916.20,486.00) rotate(-90) scale(0.6973,1)" x="-1.625" y="0" font-family="'Liberation Sans', sans-serif" font-size="30.814" fill="#000">Σ</text>
<text transform="translate(921.10,472.60) rotate(-90) scale(0.9089,1)" x="-1.228" y="0" font-family="'Liberation Sans', sans-serif" font-size="14.971" fill="#000">L</text>
<text transform="translate(249.50,213.10) scale(1.0919,1)" x="-1.111" y="0" font-family="'Liberation Sans', sans-serif" font-size="23.461" fill="#7f00ff">Old</text>
<text transform="translate(178.40,283.70) scale(0.9840,1)" x="-0.521" y="0" font-family="'Liberation Sans', sans-serif" font-size="23.692" fill="#007fff">Young</text>
<defs><linearGradient id="cb" x1="0" y1="0" x2="0" y2="1"><stop offset="0.0000" stop-color="#ff4d4d"/><stop offset="0.0417" stop-color="#ff6458"/><stop offset="0.0833" stop-color="#ff7b64"/><stop offset="0.1250" stop-color="#ff916f"/><stop offset="0.1667" stop-color="#ffa67b"/><stop offset="0.2083" stop-color="#ffb986"/><stop offset="0.2500" stop-color="#ffcb91"/><stop offset="0.2917" stop-color="#f0da9b"/><stop offset="0.3333" stop-color="#e1e7a6"/><stop offset="0.3750" stop-color="#d2f1b0"/><stop offset="0.4167" stop-color="#c4f9b9"/><stop offset="0.4583" stop-color="#b5fdc2"/><stop offset="0.5000" stop-color="#a6ffcb"/><stop offset="0.5417" stop-color="#97fdd3"/><stop offset="0.5833" stop-color="#88f9da"/><stop offset="0.6250" stop-color="#79f1e1"/><stop offset="0.6667" stop-color="#6ae7e7"/><stop offset="0.7083" stop-color="#5bdaed"/><stop offset="0.7500" stop-color="#4dcbf1"/><stop offset="0.7917" stop-color="#5bb9f6"/><stop offset="0.8333" stop-color="#6aa6f9"/><stop offset="0.8750" stop-color="#7991fc"/><stop offset="0.9167" stop-color="#887bfd"/><stop offset="0.9583" stop-color="#9764ff"/><stop offset="1.0000" stop-color="#a64dff"/></linearGradient></defs>
<rect x="1566.5" y="45.3" width="26.7" height="630.0" fill="url(#cb)" stroke="#111" stroke-width="0.9"/>
<line x1="1593.2" y1="45.3" x2="1604.9" y2="45.3" stroke="#222" stroke-width="1.1"/>
<line x1="1593.2" y1="202.8" x2="1604.9" y2="202.8" stroke="#222" stroke-width="1.1"/>
<line x1="1593.2" y1="360.3" x2="1604.9" y2="360.3" stroke="#222" stroke-width="1.1"/>
<line x1="1593.2" y1="517.8" x2="1604.9" y2="517.8" stroke="#222" stroke-width="1.1"/>
<line x1="1593.2" y1="675.3" x2="1604.9" y2="675.3" stroke="#222" stroke-width="1.1"/>
<text transform="translate(1672.30,312.60) rotate(90) scale(0.7550,1)" x="-0.894" y="0" font-family="'Liberation Sans', sans-serif" font-size="29.070" font-style="italic" fill="#000">R</text>
<text transform="translate(1664.00,331.30) rotate(90) scale(0.7746,1)" x="-0.806" y="-0.185" font-family="'Liberation Sans', sans-serif" font-size="18.983" fill="#000">e</text>
<text transform="translate(1693.00,347.90) rotate(90) scale(1.0923,1)" x="-1.610" y="18.812" font-family="'Liberation Sans', sans-serif" font-size="25.962" fill="#000">(kpc)</text>
</svg></body></html>
